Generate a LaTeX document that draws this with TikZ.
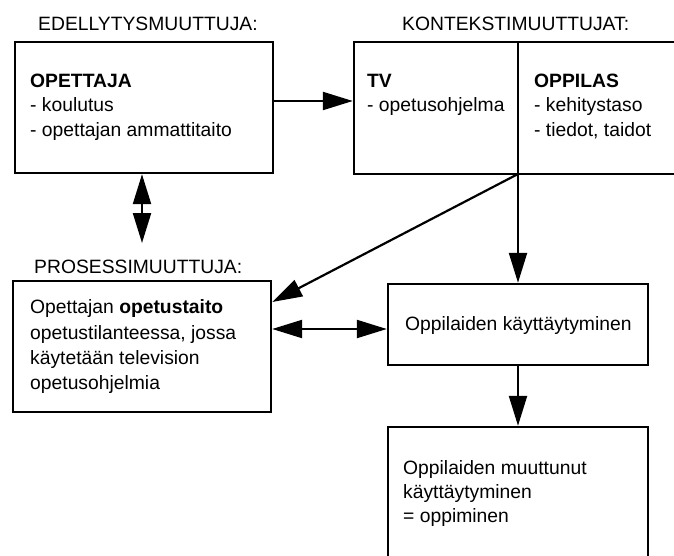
\documentclass[tikz,border=0pt]{standalone}
\usepackage{fontspec}
\setmainfont{Liberation Sans}
\usetikzlibrary{arrows.meta}
\begin{document}
\begin{tikzpicture}[x=1pt,y=-1pt,
  box/.style={draw, line width=2.4pt, rectangle, inner sep=0pt},
  txt/.style={anchor=base west, inner sep=0pt, font=\fontsize{19.3}{24}\selectfont},
  arr/.style={line width=2.2pt, -{Triangle[length=30pt,width=18pt]}},
  dbl/.style={line width=2.2pt, {Triangle[length=30pt,width=18pt]}-{Triangle[length=30pt,width=18pt]}}]
\clip (0,0) rectangle (674,556);
\fill[white] (0,0) rectangle (674,556);

% headings
\node[txt] (h1) at (38,31) {EDELLYTYSMUUTTUJA:};
\node[txt] (h2) at (402,31) {KONTEKSTIMUUTTUJAT:};
\node[txt] (h3) at (34,273) {PROSESSIMUUTTUJA:};

% boxes
\node[box, minimum width=258pt, minimum height=131pt] (opettaja) at (144,107.5) {};
\node[box, minimum width=164pt, minimum height=132pt] (tv) at (436,108) {};
\node[box, minimum width=182pt, minimum height=132pt] (oppilas) at (609,108) {};
\node[box, minimum width=258pt, minimum height=131pt] (proc) at (142,346.5) {};
\node[box, minimum width=260pt, minimum height=81pt] (beh) at (518,324.5) {};
\node[box, minimum width=260pt, minimum height=173pt] (learn) at (518,513.5) {};

% texts
\node[txt] (o1) at (30,88) {\textbf{OPETTAJA}};
\node[txt] (o2) at (30,112) {- koulutus};
\node[txt] (o3) at (30,137) {- opettajan ammattitaito};

\node[txt] (t1) at (367,88) {\textbf{TV}};
\node[txt] (t2) at (367,112) {- opetusohjelma};

\node[txt] (p1) at (534,88) {\textbf{OPPILAS}};
\node[txt] (p2) at (534,112) {- kehitystaso};
\node[txt] (p3) at (534,137) {- tiedot, taidot};

\node[txt] (r1) at (30,313) {Opettajan \textbf{opetustaito}};
\node[txt] (r2) at (30,339) {opetustilanteessa, jossa};
\node[txt] (r3) at (30,364) {käytetään television};
\node[txt] (r4) at (30,389) {opetusohjelmia};

\node[txt] (b1) at (405,330) {Oppilaiden käyttäytyminen};

\node[txt] (l1) at (403,474) {Oppilaiden muuttunut};
\node[txt] (l2) at (403,498) {käyttäytyminen};
\node[txt] (l3) at (403,522) {= oppiminen};

% connectors
\coordinate (split) at (518,174);
\coordinate (vend) at (142,243);
\draw[arr] (opettaja.east |- 0,101) -- (tv.west |- 0,101);
\draw[dbl] (opettaja.south -| vend) -- (vend);
\draw[arr] (split) -- (split |- beh.north);
\draw[arr] (split) -- (proc.east |- 0,302);
\draw[dbl] (proc.east |- 0,329) -- (beh.west |- 0,329);
\draw[arr] (beh.south) -- (learn.north);
\end{tikzpicture}
\end{document}
